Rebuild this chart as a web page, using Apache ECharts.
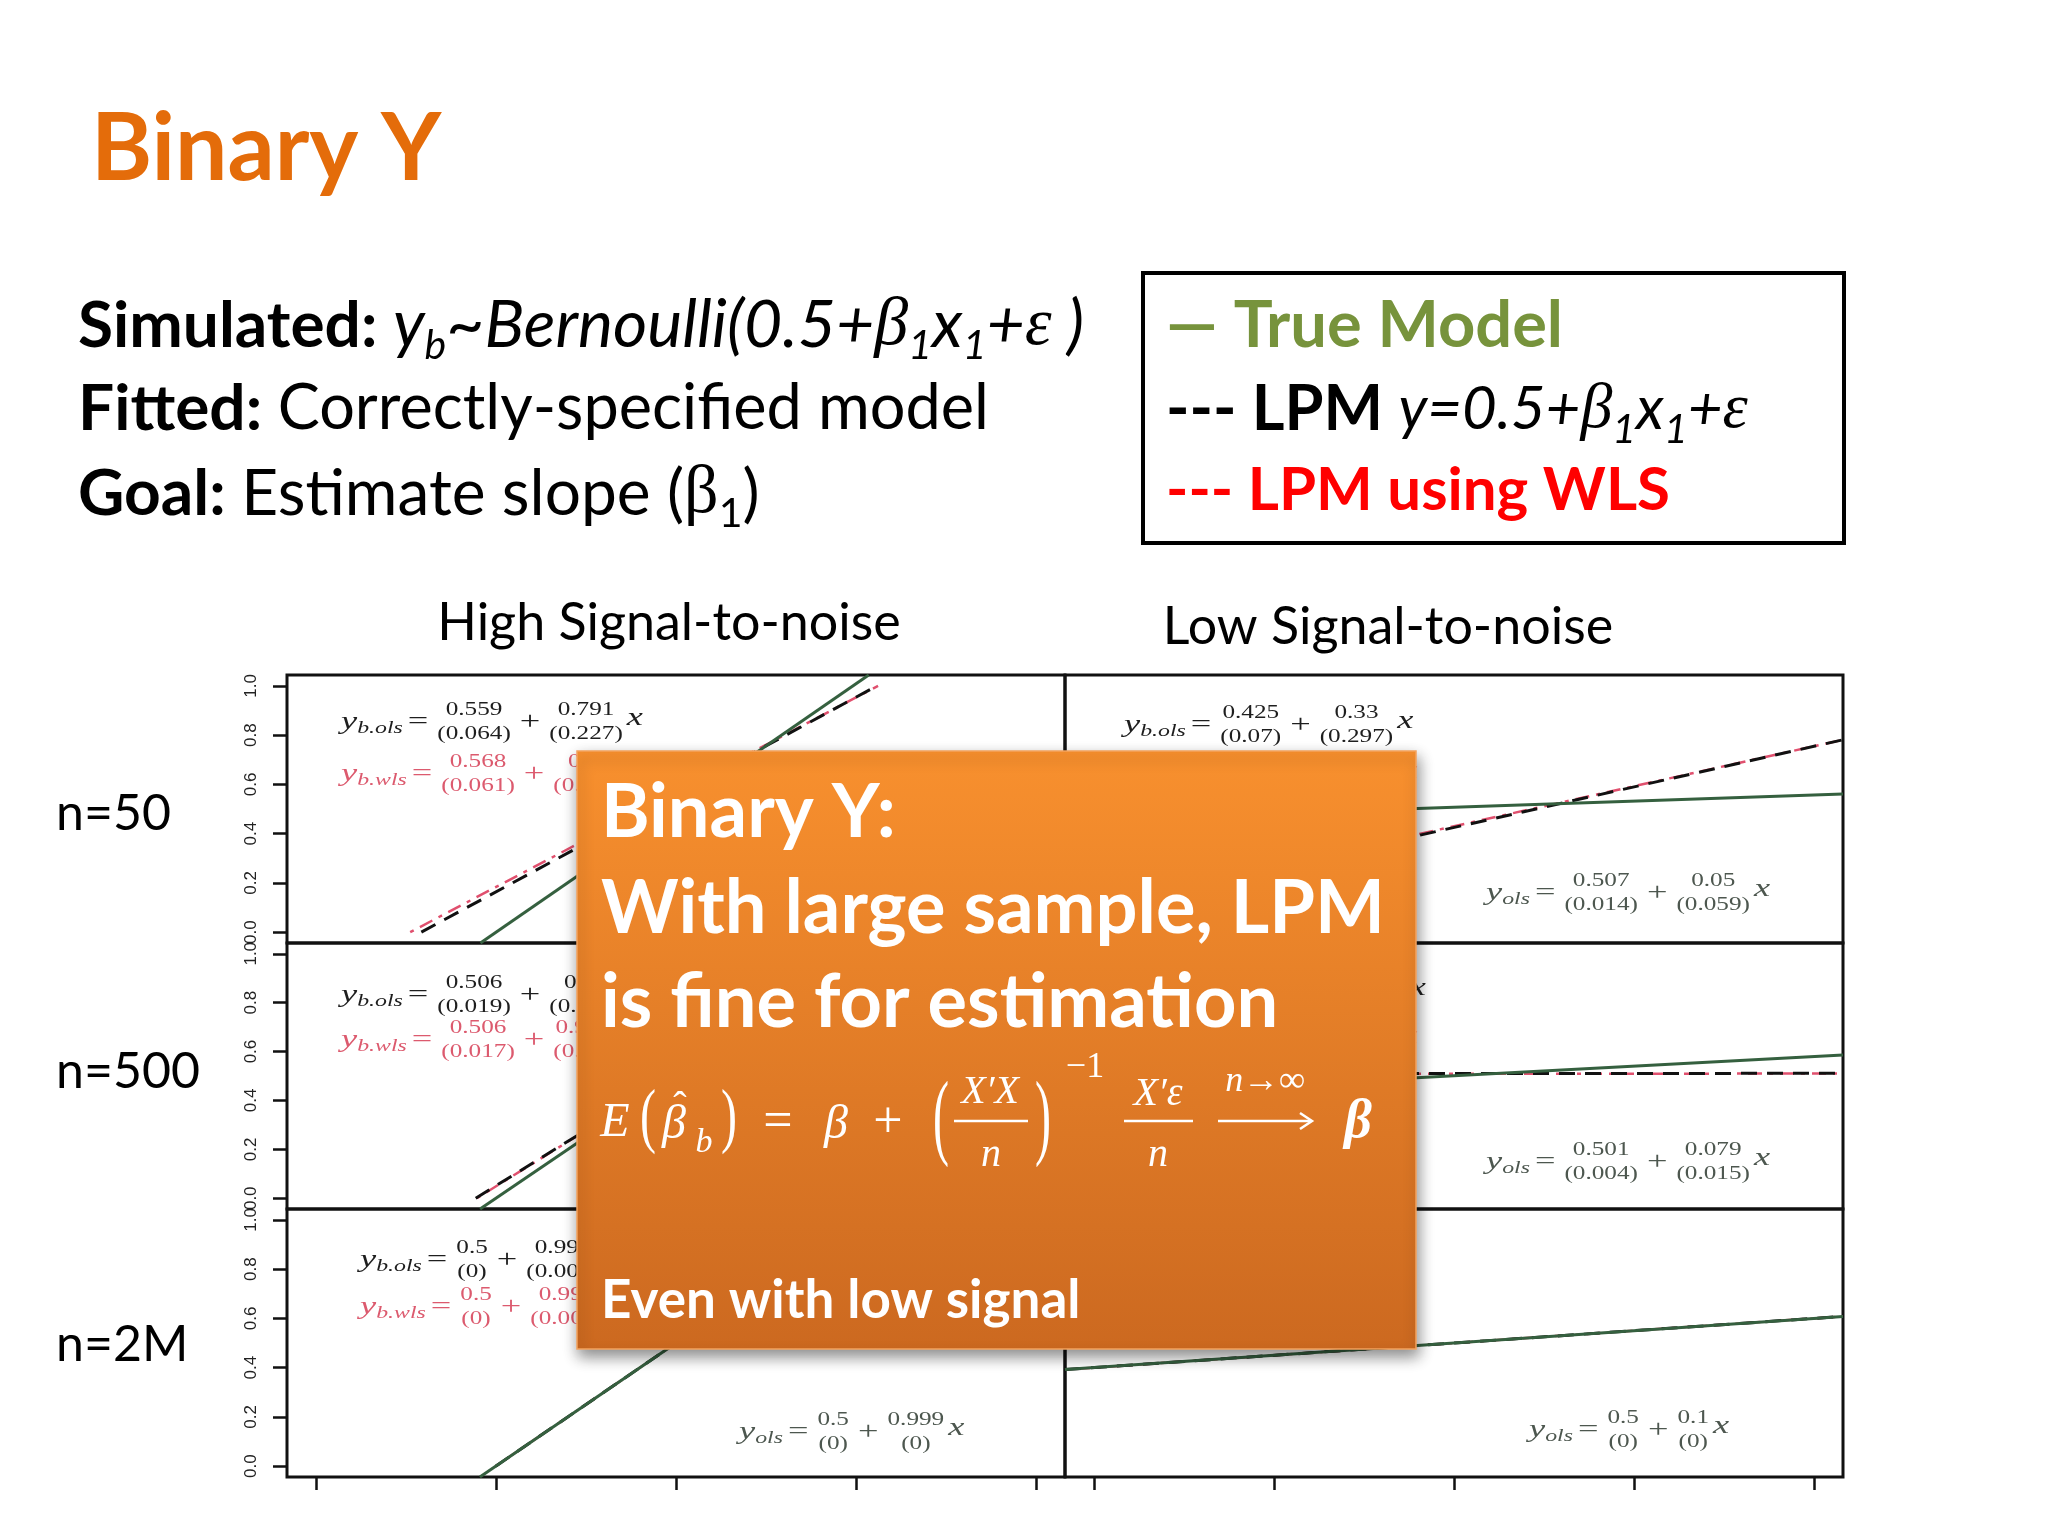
<!DOCTYPE html>
<html><head><meta charset="utf-8">
<script src="https://cdn.jsdelivr.net/npm/echarts@6/dist/echarts.min.js"></script>
<style>html,body{margin:0;padding:0;background:#fff}#c{width:2048px;height:1536px}</style>
</head><body><div id="c"></div><script>
// ---------------- data ----------------
const columnTitles = ['High Signal-to-noise', 'Low Signal-to-noise'];
const rowLabels = ['n=50', 'n=500', 'n=2M'];
const yTickValues = [0, 0.2, 0.4, 0.6, 0.8, 1.0];
const yTickLabels = ['0.0', '0.2', '0.4', '0.6', '0.8', '1.0'];
const xTickValues = [-1, -0.5, 0, 0.5, 1];
// panel order: n=50 high, n=50 low, n=500 high, n=500 low, n=2M high, n=2M low
// solid green line (continuous-y OLS / true model), endpoints [x, y]
const trueModelLines = [
  [[-0.543, -0.044], [0.535, 1.044]],
  [[-1.08, 0.453], [1.08, 0.561]],
  [[-0.544, -0.044], [0.544, 1.044]],
  [[-1.08, 0.416], [1.08, 0.586]],
  [[-0.5445, -0.044], [0.5445, 1.044]],
  [[-1.08, 0.392], [1.08, 0.608]]
];
const lpmOlsLines = [
  [[-0.707, 0], [0.558, 1]],
  [[-1.08, 0.069], [1.08, 0.781]],
  [[-0.556, 0], [0.543, 1]],
  [[-1.08, 0.509], [1.08, 0.511]],
  [[-0.5005, 0], [0.5005, 1]],
  [[-1.08, 0.392], [1.08, 0.608]]
];
const lpmWlsLines = [
  [[-0.738, 0], [0.561, 1]],
  [[-1.08, 0.079], [1.08, 0.781]],
  [[-0.553, 0], [0.540, 1]],
  [[-1.08, 0.508], [1.08, 0.510]],
  [[-0.5005, 0], [0.5005, 1]],
  [[-1.08, 0.392], [1.08, 0.608]]
];
// equation texts: subscript, intercept, (se), slope, (se)
const equationTexts = [
  ['b.ols', '0.559', '(0.064)', '0.791', '(0.227)'],
  ['b.wls', '0.568', '(0.061)', '0.77', '(0.219)'],
  ['b.ols', '0.425', '(0.07)', '0.33', '(0.297)'],
  ['b.wls', '0.43', '(0.069)', '0.325', '(0.29)'],
  ['ols', '0.507', '(0.014)', '0.05', '(0.059)'],
  ['b.ols', '0.506', '(0.019)', '0.91', '(0.064)'],
  ['b.wls', '0.506', '(0.017)', '0.915', '(0.06)'],
  ['b.ols', '0.509', '(0.021)', '0.004', '(0.074)'],
  ['b.wls', '0.508', '(0.02)', '0.003', '(0.071)'],
  ['ols', '0.501', '(0.004)', '0.079', '(0.015)'],
  ['b.ols', '0.5', '(0)', '0.999', '(0.001)'],
  ['b.wls', '0.5', '(0)', '0.999', '(0.001)'],
  ['ols', '0.5', '(0)', '0.999', '(0)'],
  ['ols', '0.5', '(0)', '0.1', '(0)']
];

// ---------------- layout / style ----------------
const LATO = 'Lato, "Open Sans", sans-serif';
const SERIF = '"Liberation Serif", "DejaVu Serif", serif';
const panelRects = [
  [287, 675, 778, 268], [1065, 675, 778, 268],
  [287, 943, 778, 266], [1065, 943, 778, 266],
  [287, 1209, 778, 268], [1065, 1209, 778, 268]
];
const equationLayout = [
  [341, 722, 'k'], [341, 774, 'r'], [1124, 725, 'k'], [1124, 775, 'r'], [1486, 893, 'g'],
  [341, 995, 'k'], [341, 1040, 'r'], [1124, 992, 'k'], [1124, 1040, 'r'], [1486, 1162, 'g'],
  [360, 1260, 'k'], [360, 1307, 'r'], [739, 1432, 'g'], [1529, 1430, 'g']
];
const eqColors = { k: '#1e1e1e', r: '#dc5a6e', g: '#4d574f' };

const mctx = document.createElement('canvas').getContext('2d');
function tw(s, font) { mctx.font = font; return mctx.measureText(s).width; }
function T(text, x, y, o) {
  o = o || {};
  return {
    type: 'text', x: x, y: y, z: o.z || 10, scaleX: o.sx || 1, scaleY: o.sy || 1,
    style: { text: text, fill: o.fill || '#000', font: o.font, align: o.align || 'left',
      verticalAlign: o.va || 'middle', rich: o.rich }
  };
}

const g = [];
// title
g.push(T('Binary Y', 91, 150, { font: `bold 93px ${LATO}`, fill: '#E46C0A' }));
// description block
const BODY = 64;
const subS = { fontFamily: LATO, fontStyle: 'italic', fontSize: 41, lineHeight: 42, verticalAlign: 'bottom', fill: '#000' };
g.push(T('{b|Simulated: }{i|y}{s|b}{i|~Bernoulli(0.5+}{m|β}{s|1}{i|x}{s|1}{i|+}{m|ε}{i| )}', 78, 326, {
  rich: {
    b: { fontFamily: LATO, fontWeight: 'bold', fontSize: BODY, lineHeight: 80, fill: '#000' },
    i: { fontFamily: LATO, fontStyle: 'italic', fontSize: 66, lineHeight: 80, fill: '#000' },
    m: { fontFamily: SERIF, fontStyle: 'italic', fontSize: 68, lineHeight: 80, fill: '#000' },
    s: subS
  }
}));
g.push(T('{b|Fitted: }{r|Correctly-specified model}', 78, 409, {
  rich: {
    b: { fontFamily: LATO, fontWeight: 'bold', fontSize: BODY, fill: '#000' },
    r: { fontFamily: LATO, fontSize: 63, fill: '#000' }
  }
}));
g.push(T('{b|Goal: }{r|Estimate slope (}{m|β}{s|1}{r|)}', 78, 494, {
  rich: {
    b: { fontFamily: LATO, fontWeight: 'bold', fontSize: BODY, lineHeight: 80, fill: '#000' },
    r: { fontFamily: LATO, fontSize: 64, lineHeight: 80, fill: '#000' },
    m: { fontFamily: SERIF, fontSize: 68, lineHeight: 80, fill: '#000' },
    s: { fontFamily: LATO, fontSize: 41, lineHeight: 42, verticalAlign: 'bottom', fill: '#000' }
  }
}));
// legend box
g.push({ type: 'rect', z: 5, shape: { x: 1143, y: 273, width: 701, height: 270 },
  style: { fill: '#fff', stroke: '#000', lineWidth: 4 } });
g.push(T('— True Model', 1166, 326, { font: `bold 65px ${LATO}`, fill: '#77933C' }));
g.push(T('{k|--- LPM }{i|y=0.5+}{m|β}{s|1}{i|x}{s|1}{i|+}{m|ε}', 1166, 410, {
  rich: {
    k: { fontFamily: LATO, fontWeight: 'bold', fontSize: 63, lineHeight: 80, fill: '#000' },
    i: { fontFamily: LATO, fontStyle: 'italic', fontSize: 60, lineHeight: 80, fill: '#000' },
    m: { fontFamily: SERIF, fontStyle: 'italic', fontSize: 64, lineHeight: 80, fill: '#000' },
    s: subS
  }
}));
g.push(T('--- LPM using WLS', 1166, 491, { font: `bold 60px ${LATO}`, fill: '#FF0000' }));
// column / row headers
g.push(T(columnTitles[0], 669, 623, { font: `52px ${LATO}`, align: 'center' }));
g.push(T(columnTitles[1], 1388, 627, { font: `52px ${LATO}`, align: 'center' }));
const rowY = [814, 1072, 1345];
rowLabels.forEach((r, i) => g.push(T(r, 56, rowY[i], { font: `50px ${LATO}` })));

// panel equations
const SX = 1.4;
equationTexts.forEach((t, i) => {
  const [sub, a, ase, b, bse] = t;
  const [x0, yc, kind] = equationLayout[i];
  const col = eqColors[kind];
  const fM = `italic 26px ${SERIF}`, fS = `italic 17px ${SERIF}`, fR = `26px ${SERIF}`, fN = `18px ${SERIF}`;
  let cx = x0;
  g.push(T('y', cx, yc, { font: fM, fill: col, sx: SX, z: 6 }));
  cx += tw('y', fM) * SX;
  g.push(T(sub, cx, yc + 7, { font: fS, fill: col, sx: SX, z: 6 }));
  cx += tw(sub, fS) * SX + 5;
  g.push(T('=', cx, yc, { font: fR, fill: col, sx: SX, z: 6 }));
  cx += tw('=', fR) * SX + 9;
  const c1 = Math.max(tw(a, fN), tw(ase, fN)) * SX;
  g.push(T(a, cx + c1 / 2, yc - 12, { font: fN, fill: col, sx: SX, align: 'center', z: 6 }));
  g.push(T(ase, cx + c1 / 2, yc + 12, { font: fN, fill: col, sx: SX, align: 'center', z: 6 }));
  cx += c1 + 9;
  g.push(T('+', cx, yc, { font: fR, fill: col, sx: SX, z: 6 }));
  cx += tw('+', fR) * SX + 9;
  const c2 = Math.max(tw(b, fN), tw(bse, fN)) * SX;
  g.push(T(b, cx + c2 / 2, yc - 12, { font: fN, fill: col, sx: SX, align: 'center', z: 6 }));
  g.push(T(bse, cx + c2 / 2, yc + 12, { font: fN, fill: col, sx: SX, align: 'center', z: 6 }));
  cx += c2 + 4;
  g.push(T('x', cx, yc - 4, { font: fM, fill: col, sx: SX, z: 6 }));
});

// orange overlay box
g.push({ type: 'rect', z: 50, shape: { x: 577, y: 751, width: 839, height: 598 },
  style: {
    fill: new echarts.graphic.LinearGradient(0, 0, 0, 1, [
      { offset: 0, color: '#F8902E' }, { offset: 1, color: '#CC6920' }]),
    stroke: '#F4A35E', lineWidth: 1.5,
    shadowBlur: 14, shadowColor: 'rgba(0,0,0,0.45)', shadowOffsetX: 2, shadowOffsetY: 7
  } });
const W = '#ffffff';
g.push(T('Binary Y:', 601, 813, { font: `bold 74px ${LATO}`, fill: W, z: 60 }));
g.push(T('With large sample, LPM', 601, 909, { font: `bold 74px ${LATO}`, fill: W, z: 60 }));
g.push(T('is fine for estimation', 601, 1003, { font: `bold 74px ${LATO}`, fill: W, z: 60 }));
g.push(T('Even with low signal', 601, 1301, { font: `bold 53px ${LATO}`, fill: W, z: 60 }));
// formula
const fi = (s) => `italic ${s}px ${SERIF}`, fr = (s) => `${s}px ${SERIF}`;
const F = (txt, x, y, font, extra) => g.push(T(txt, x, y, Object.assign({ font: font, fill: W, align: 'center', z: 60 }, extra || {})));
F('E', 615, 1123, fi(48));
F('(', 648, 1120, fr(48), { sy: 1.5 });
F('β', 674, 1125, fi(48));
F('ˆ', 680, 1108, fr(40));
F('b', 704, 1143, fi(34));
F(')', 729, 1120, fr(48), { sy: 1.5 });
F('=', 778, 1123, fr(52));
F('β', 836, 1125, fi(48));
F('+', 888, 1123, fr(52));
F('(', 941, 1122, fr(48), { sy: 2.0 });
F('X′X', 990, 1092, fi(40));
F('n', 991, 1155, fi(40));
F(')', 1043, 1122, fr(48), { sy: 2.0 });
F('−1', 1085, 1068, fr(36));
F('X′ε', 1158, 1094, fi(40));
F('n', 1158, 1155, fi(40));
F('n→∞', 1265, 1082, fi(36));
F('β', 1358, 1123, `bold italic 54px ${SERIF}`);
g.push({ type: 'line', z: 60, shape: { x1: 954, y1: 1121, x2: 1028, y2: 1121 }, style: { stroke: W, lineWidth: 2.5 } });
g.push({ type: 'line', z: 60, shape: { x1: 1124, y1: 1121, x2: 1193, y2: 1121 }, style: { stroke: W, lineWidth: 2.5 } });
g.push({ type: 'line', z: 60, shape: { x1: 1218, y1: 1121, x2: 1310, y2: 1121 }, style: { stroke: W, lineWidth: 2.5 } });
g.push({ type: 'polyline', z: 60, shape: { points: [[1300, 1113], [1312, 1121], [1300, 1129]] }, style: { stroke: W, lineWidth: 2.5, fill: null } });

// ---------------- chart ----------------
const grids = [], xAxes = [], yAxes = [], series = [];
panelRects.forEach((p, i) => {
  const row = Math.floor(i / 2), col = i % 2;
  grids.push({ left: p[0], top: p[1], width: p[2], height: p[3], show: true, borderColor: '#111',
    borderWidth: 3, backgroundColor: 'rgba(0,0,0,0)', containLabel: false, outerBoundsMode: 'none' });
  xAxes.push({ gridIndex: i, type: 'value', min: -1.08, max: 1.08, show: row === 2, position: 'bottom',
    axisLine: { show: false, onZero: false }, splitLine: { show: false },
    axisTick: { show: true, customValues: xTickValues, length: 13, lineStyle: { color: '#111', width: 2.5 } },
    axisLabel: { show: false } });
  yAxes.push({ gridIndex: i, type: 'value', min: -0.044, max: 1.044, show: col === 0, position: 'left',
    axisLine: { show: false, onZero: false }, splitLine: { show: false },
    axisTick: { show: true, customValues: yTickValues, length: 14, lineStyle: { color: '#111', width: 2.5 } },
    axisLabel: { customValues: yTickValues, rotate: 90, margin: 27, fontSize: 17,
      fontFamily: 'Liberation Sans', color: '#222',
      formatter: (v) => { const k = yTickValues.findIndex(t => Math.abs(t - v) < 1e-9); return k >= 0 ? yTickLabels[k] : ''; } } });
  series.push({ type: 'line', xAxisIndex: i, yAxisIndex: i, data: lpmWlsLines[i], symbol: 'none', z: 3,
    lineStyle: { color: '#e0506e', width: 2.5, type: [4, 7, 14, 7] }, silent: true });
  series.push({ type: 'line', xAxisIndex: i, yAxisIndex: i, data: lpmOlsLines[i], symbol: 'none', z: 4,
    lineStyle: { color: '#111', width: 3, type: [16, 10] }, silent: true });
  series.push({ type: 'line', xAxisIndex: i, yAxisIndex: i, data: trueModelLines[i], symbol: 'none', z: 5,
    lineStyle: { color: '#35603f', width: 3 }, silent: true });
});

const chart = echarts.init(document.getElementById('c'), null, { renderer: 'canvas', width: 2048, height: 1536 });
chart.setOption({
  backgroundColor: '#ffffff',
  animation: false,
  grid: grids, xAxis: xAxes, yAxis: yAxes, series: series,
  graphic: { elements: g }
});
</script></body></html>
